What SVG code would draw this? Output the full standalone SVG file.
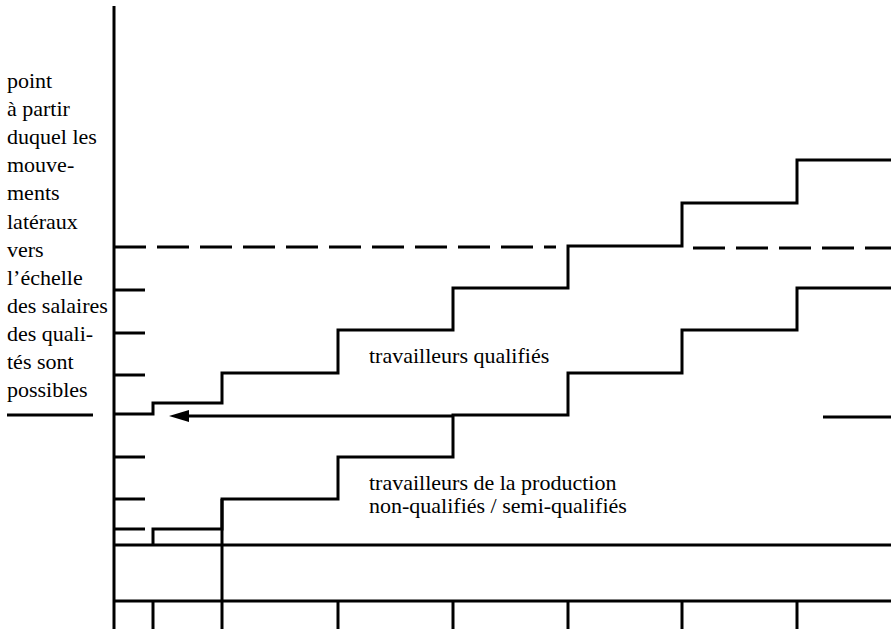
<svg xmlns="http://www.w3.org/2000/svg" width="891" height="629" viewBox="0 0 891 629">
<defs>
<style>
.ln{fill:none;stroke:#000;stroke-width:3;stroke-linecap:butt;stroke-linejoin:miter}
.dash{fill:none;stroke:#000;stroke-width:3;stroke-dasharray:32 11}
.t{font-family:"Liberation Serif","Times New Roman","DejaVu Serif",serif;font-size:22px;fill:#000}
</style>
<marker id="ah" viewBox="0 0 20 12" refX="1" refY="6" markerWidth="20" markerHeight="12" markerUnits="userSpaceOnUse" orient="auto-start-reverse">
<path d="M0,0 L20,6 L0,12 Z" fill="#000"/>
</marker>
</defs>
<rect width="891" height="629" fill="#fff"/>
<g id="axes">
<line class="ln" x1="114" y1="6" x2="114" y2="629"/>
<line class="ln" x1="114" y1="601" x2="891" y2="601"/>
<line class="ln" x1="114" y1="545" x2="891" y2="545"/>
<line class="ln" x1="153" y1="601" x2="153" y2="629"/>
<line class="ln" x1="222" y1="499" x2="222" y2="629"/>
<line class="ln" x1="338" y1="601" x2="338" y2="629"/>
<line class="ln" x1="453" y1="601" x2="453" y2="629"/>
<line class="ln" x1="568" y1="601" x2="568" y2="629"/>
<line class="ln" x1="682" y1="601" x2="682" y2="629"/>
<line class="ln" x1="797" y1="601" x2="797" y2="629"/>
<line class="ln" x1="114" y1="290" x2="145" y2="290"/>
<line class="ln" x1="114" y1="333" x2="145" y2="333"/>
<line class="ln" x1="114" y1="375" x2="145" y2="375"/>
<line class="ln" x1="114" y1="457" x2="145" y2="457"/>
<line class="ln" x1="114" y1="499" x2="145" y2="499"/>
<line class="ln" x1="114" y1="529" x2="145" y2="529"/>
<line class="ln" x1="7" y1="415" x2="93" y2="415"/>
<line class="ln" x1="823" y1="417" x2="891" y2="417"/>
</g>
<g id="seuil">
<line class="dash" x1="114" y1="247" x2="556" y2="247"/>
<line class="dash" x1="693" y1="248" x2="891" y2="248"/>
</g>
<g id="qualifies">
<path class="ln" d="M114,414 H153 V403 H222 V373 H338 V330 H453 V288 H568 V246 H682 V203 H797 V160 H891"/>
<text class="t" x="369" y="363">travailleurs qualifiés</text>
</g>
<g id="production">
<path class="ln" d="M153,545 V529 H222 V499 H338 V457 H453 V415 H568 V373 H682 V330 H797 V288 H891"/>
<text class="t" x="369" y="490">travailleurs de la production</text>
<text class="t" x="369" y="513">non-qualifiés / semi-qualifiés</text>
</g>
<g id="connectors">
<line class="ln" x1="453" y1="416" x2="188" y2="416" marker-end="url(#ah)"/>
</g>
<g id="label">
<text class="t" x="7" y="88">point</text>
<text class="t" x="7" y="116">à partir</text>
<text class="t" x="7" y="144">duquel les</text>
<text class="t" x="7" y="172">mouve-</text>
<text class="t" x="7" y="200">ments</text>
<text class="t" x="7" y="229">latéraux</text>
<text class="t" x="7" y="257">vers</text>
<text class="t" x="7" y="285">l’échelle</text>
<text class="t" x="7" y="313">des salaires</text>
<text class="t" x="7" y="341">des quali-</text>
<text class="t" x="7" y="369">tés sont</text>
<text class="t" x="7" y="397">possibles</text>
</g>
</svg>
